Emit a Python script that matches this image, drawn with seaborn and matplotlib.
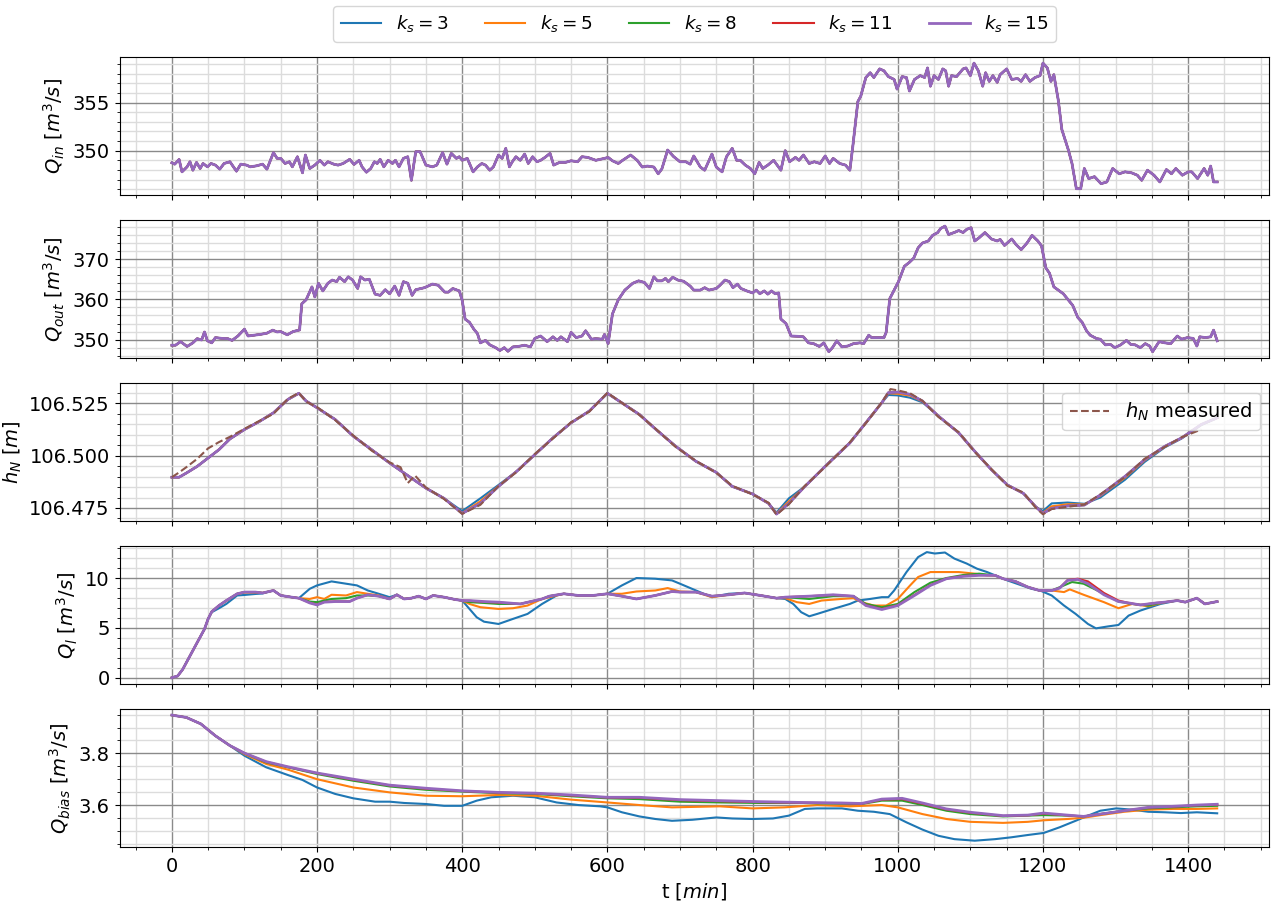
import pandas as pd
import matplotlib
matplotlib.use("Agg")
import matplotlib.pyplot as plt
from matplotlib.ticker import MultipleLocator, AutoMinorLocator, FormatStrFormatter
import seaborn as sns

# --- 1. Series / labels ---
KS = [3, 5, 8, 11, 15]
COLORS = ['tab:blue', 'tab:orange', 'tab:green', 'tab:red', 'tab:purple']

# --- 2. Inflow (same for every k_s) ---
t_qin = [0, 4, 10, 14, 21, 25, 29, 34, 39, 43, 49, 54, 60, 66, 72, 80, 89, 95, 103, 108,
         117, 125, 131, 140, 145, 150, 156, 162, 166, 173, 180, 184, 190, 197, 204, 210, 215, 223, 229, 236,
         245, 251, 258, 262, 268, 274, 279, 283, 287, 292, 298, 304, 308, 313, 319, 325, 330, 336, 342, 350,
         359, 365, 373, 379, 385, 392, 396, 400, 407, 415, 421, 427, 432, 438, 443, 450, 455, 460, 465, 469,
         474, 480, 486, 491, 497, 503, 508, 514, 521, 526, 534, 542, 550, 559, 565, 573, 584, 596, 601, 607,
         615, 621, 632, 641, 648, 655, 664, 670, 675, 683, 691, 700, 708, 714, 719, 728, 734, 744, 750, 758,
         764, 772, 778, 783, 790, 797, 803, 809, 814, 821, 829, 839, 845, 851, 859, 864, 870, 878, 885, 893,
         900, 906, 911, 920, 928, 934, 938, 945, 949, 956, 962, 967, 975, 981, 987, 995, 999, 1006, 1012, 1016,
         1023, 1031, 1037, 1041, 1045, 1050, 1056, 1062, 1066, 1070, 1074, 1081, 1090, 1094, 1100, 1105, 1111, 1117, 1121, 1126,
         1131, 1137, 1141, 1150, 1157, 1165, 1170, 1176, 1182, 1189, 1196, 1200, 1206, 1211, 1215, 1221, 1226, 1235, 1240, 1246,
         1252, 1257, 1263, 1271, 1280, 1288, 1296, 1305, 1313, 1322, 1330, 1336, 1344, 1353, 1361, 1370, 1377, 1383, 1392, 1400,
         1405, 1413, 1422, 1427, 1431, 1435, 1440]
q_in = [348.74, 348.6, 349.09, 347.8, 348.32, 348.85, 347.97, 348.78, 348.15, 348.67, 348.32, 348.67, 348.5, 348.08, 348.67, 348.85, 347.87, 348.6, 348.5, 348.32,
        348.43, 348.6, 348.08, 349.8, 349.2, 349.2, 348.67, 348.85, 348.32, 349.37, 347.7, 349.55, 348.15, 348.5, 349.0, 348.5, 348.85, 348.6, 348.5, 348.67,
        349.1, 348.57, 349.0, 348.32, 347.76, 348.15, 348.85, 348.67, 349.1, 348.32, 349.0, 348.67, 349.0, 348.32, 349.2, 349.37, 346.92, 349.9, 349.9, 348.5,
        348.32, 348.5, 349.8, 348.6, 349.72, 349.2, 349.37, 349.0, 349.2, 347.8, 348.32, 348.67, 348.5, 347.97, 348.32, 349.55, 349.2, 350.24, 348.32, 348.85,
        349.37, 349.0, 349.65, 348.67, 349.37, 348.85, 349.0, 349.3, 349.72, 348.5, 348.78, 348.78, 348.95, 348.85, 349.37, 349.3, 349.0, 349.2, 349.3, 348.95,
        348.67, 349.0, 349.55, 349.0, 348.3, 348.4, 348.3, 347.6, 348.1, 350.07, 349.4, 348.85, 348.85, 348.6, 349.45, 348.3, 347.97, 349.65, 348.3, 347.8,
        349.37, 350.24, 349.0, 349.0, 348.5, 348.15, 347.6, 348.78, 348.15, 348.5, 349.0, 347.97, 350.0, 348.85, 349.3, 349.0, 349.55, 348.67, 348.85, 348.67,
        349.45, 348.67, 349.2, 348.67, 348.5, 347.97, 350.4, 355.1, 355.66, 357.6, 358.1, 357.6, 358.5, 358.3, 357.7, 357.4, 356.4, 357.7, 357.6, 356.2,
        357.4, 357.8, 357.6, 358.6, 356.7, 357.8, 357.4, 358.5, 358.3, 356.7, 357.8, 357.7, 358.5, 358.6, 357.8, 359.1, 358.3, 356.7, 358.1, 357.2,
        357.8, 357.1, 357.9, 358.5, 357.4, 357.5, 357.2, 357.9, 357.2, 357.6, 357.8, 359.1, 358.6, 357.2, 357.9, 355.3, 352.2, 350.07, 348.67, 346.05,
        346.05, 348.15, 347.1, 347.3, 346.57, 346.75, 348.15, 347.6, 347.8, 347.7, 347.45, 346.92, 347.97, 347.45, 346.75, 348.04, 347.6, 348.15, 347.45, 347.8,
        347.8, 347.1, 348.15, 347.45, 348.4, 346.75, 346.75]

# --- 3. Outflow (same for every k_s) ---
t_qout = [0, 5, 12, 21, 29, 35, 41, 45, 49, 55, 60, 69, 77, 83, 91, 100, 105, 114, 122, 131,
          139, 145, 150, 159, 167, 176, 179, 185, 193, 197, 202, 208, 215, 221, 227, 231, 238, 243, 249, 256,
          260, 266, 272, 280, 287, 294, 300, 307, 313, 319, 325, 331, 336, 348, 359, 367, 376, 381, 387, 396,
          400, 404, 410, 416, 421, 425, 432, 438, 446, 452, 458, 463, 470, 477, 486, 494, 500, 508, 517, 525,
          531, 536, 545, 550, 557, 565, 570, 578, 584, 593, 596, 601, 607, 615, 624, 635, 643, 651, 658, 664,
          669, 675, 680, 684, 690, 697, 705, 714, 719, 728, 734, 740, 750, 755, 762, 768, 773, 779, 784, 792,
          800, 805, 810, 816, 821, 826, 831, 836, 839, 846, 853, 864, 870, 877, 884, 892, 898, 905, 910, 916,
          923, 931, 939, 948, 953, 960, 964, 973, 981, 984, 989, 995, 1001, 1009, 1016, 1022, 1028, 1034, 1042, 1048,
          1055, 1059, 1065, 1070, 1079, 1084, 1090, 1095, 1101, 1106, 1112, 1120, 1129, 1137, 1141, 1147, 1157, 1163, 1170, 1178,
          1185, 1193, 1198, 1204, 1209, 1215, 1221, 1228, 1233, 1241, 1248, 1254, 1260, 1265, 1274, 1279, 1286, 1293, 1299, 1307,
          1315, 1321, 1327, 1334, 1341, 1347, 1351, 1360, 1368, 1376, 1385, 1391, 1399, 1407, 1412, 1416, 1424, 1431, 1435, 1440]
q_out = [348.6, 348.6, 349.5, 348.3, 349.2, 350.25, 349.9, 351.9, 349.7, 349.2, 350.5, 350.3, 350.25, 349.8, 350.9, 352.6, 350.9, 351.1, 351.3, 351.6,
         352.35, 351.9, 352.0, 351.2, 352.0, 352.4, 358.9, 359.9, 363.1, 360.6, 364.0, 362.1, 364.0, 364.8, 364.4, 365.5, 364.4, 365.6, 364.8, 362.7,
         365.6, 364.8, 365.0, 361.3, 361.0, 362.4, 361.4, 363.3, 361.0, 364.4, 364.0, 361.0, 362.4, 362.9, 363.8, 363.5, 361.8, 361.8, 362.7, 362.1,
         359.75, 355.1, 354.3, 352.6, 351.5, 349.2, 349.8, 348.7, 348.0, 347.3, 348.0, 347.1, 348.2, 348.3, 348.6, 348.2, 350.3, 350.9, 349.5, 350.7,
         349.8, 350.7, 349.5, 351.8, 350.5, 350.9, 352.2, 350.1, 350.25, 350.1, 351.3, 349.0, 356.4, 359.9, 362.3, 364.0, 364.6, 364.2, 362.7, 365.6,
         364.6, 364.6, 365.2, 364.4, 365.5, 364.8, 364.5, 363.3, 362.3, 362.3, 362.9, 362.3, 362.7, 363.5, 364.8, 364.4, 362.9, 363.8, 362.7, 362.1,
         361.6, 362.3, 361.4, 362.1, 361.3, 362.1, 361.4, 361.6, 355.1, 354.0, 350.9, 350.8, 350.7, 349.2, 349.0, 348.3, 349.2, 347.0, 348.0, 349.7,
         348.2, 348.4, 349.0, 349.2, 349.0, 351.1, 350.5, 350.5, 350.5, 351.8, 360.2, 362.3, 364.4, 368.2, 369.2, 370.25, 372.8, 374.0, 374.5, 375.9,
         376.6, 377.6, 378.2, 376.1, 376.7, 377.1, 376.6, 377.4, 377.8, 374.5, 375.3, 376.6, 375.0, 374.5, 374.9, 373.4, 375.0, 373.6, 372.35, 374.0,
         375.9, 374.5, 373.3, 367.8, 366.5, 363.1, 362.3, 361.4, 360.3, 358.5, 355.5, 354.3, 352.2, 351.1, 350.25, 350.1, 348.7, 348.8, 348.0, 348.7,
         349.8, 348.8, 348.7, 348.0, 349.0, 348.4, 347.0, 349.5, 349.2, 349.0, 350.9, 350.1, 350.5, 350.3, 348.4, 350.7, 350.5, 350.7, 352.35, 349.7]

# --- 4. Water level h_N ---
t_hn = [0, 10, 20, 35, 50, 65, 80, 100, 120, 140, 160, 175, 185, 200, 225, 250, 275, 300, 330, 350,
        375, 400, 425, 450, 475, 500, 525, 550, 575, 600, 644, 666, 694, 722, 750, 772, 800, 822, 833, 850,
        872, 900, 934, 956, 978, 987, 1000, 1017, 1034, 1056, 1084, 1106, 1129, 1151, 1173, 1190, 1200, 1212, 1234, 1257,
        1279, 1313, 1340, 1368, 1391, 1418, 1440]
hn_ks3 = [106.4897, 106.4897, 106.4917, 106.4949, 106.4989, 106.5029, 106.5080, 106.5125, 106.5162, 106.5205,
          106.5269, 106.5298, 106.5261, 106.5229, 106.5173, 106.5093, 106.5029, 106.4965, 106.4893, 106.4845,
          106.4796, 106.4735, 106.4796, 106.4860, 106.4925, 106.5005, 106.5085, 106.5157, 106.5213, 106.5298,
          106.5197, 106.5128, 106.5045, 106.4973, 106.4920, 106.4853, 106.4817, 106.4772, 106.4728, 106.4796,
          106.4853, 106.4949, 106.5061, 106.5157, 106.5253, 106.5290, 106.5288, 106.5277, 106.5255, 106.5189,
          106.5109, 106.5021, 106.4933, 106.4860, 106.4820, 106.4756, 106.4735, 106.4772, 106.4776, 106.4770,
          106.4800, 106.4885, 106.4970, 106.5040, 106.5082, 106.5146, 106.5180]
hn_ks5 = [106.4897, 106.4897, 106.4917, 106.4949, 106.4989, 106.5029, 106.5080, 106.5125, 106.5162, 106.5205,
          106.5269, 106.5298, 106.5261, 106.5229, 106.5173, 106.5093, 106.5029, 106.4965, 106.4893, 106.4845,
          106.4796, 106.4726, 106.4782, 106.4855, 106.4925, 106.5005, 106.5085, 106.5157, 106.5213, 106.5298,
          106.5197, 106.5128, 106.5045, 106.4973, 106.4920, 106.4853, 106.4817, 106.4772, 106.4723, 106.4782,
          106.4853, 106.4949, 106.5061, 106.5157, 106.5253, 106.5298, 106.5296, 106.5287, 106.5259, 106.5189,
          106.5109, 106.5021, 106.4933, 106.4860, 106.4820, 106.4756, 106.4727, 106.4758, 106.4768, 106.4767,
          106.4808, 106.4895, 106.4977, 106.5043, 106.5084, 106.5148, 106.5181]
hn_ks8_15 = [106.4897, 106.4897, 106.4917, 106.4949, 106.4989, 106.5029, 106.5080, 106.5125, 106.5162, 106.5205,
             106.5269, 106.5298, 106.5261, 106.5229, 106.5173, 106.5093, 106.5029, 106.4965, 106.4893, 106.4845,
             106.4796, 106.4724, 106.4772, 106.4853, 106.4925, 106.5005, 106.5085, 106.5157, 106.5213, 106.5298,
             106.5197, 106.5128, 106.5045, 106.4973, 106.4920, 106.4853, 106.4817, 106.4772, 106.4721, 106.4772,
             106.4853, 106.4949, 106.5061, 106.5157, 106.5253, 106.5301, 106.5304, 106.5293, 106.5261, 106.5189,
             106.5109, 106.5021, 106.4933, 106.4860, 106.4820, 106.4756, 106.4724, 106.4748, 106.4760, 106.4764,
             106.4812, 106.4901, 106.4981, 106.5045, 106.5085, 106.5149, 106.5181]
t_meas = [0, 10, 20, 35, 50, 65, 80, 100, 120, 140, 160, 175, 185, 200, 225, 250, 275, 300, 315, 325,
          335, 350, 375, 400, 425, 450, 475, 500, 525, 550, 575, 600, 644, 666, 694, 722, 750, 772, 800, 822,
          833, 850, 872, 900, 934, 956, 978, 990, 1000, 1017, 1034, 1056, 1084, 1106, 1129, 1151, 1173, 1190, 1200, 1212,
          1234, 1257, 1279, 1313, 1340, 1368, 1391, 1418]
hn_meas = [106.4897, 106.4920, 106.4945, 106.4985, 106.5035, 106.5065, 106.5090, 106.5128, 106.5165, 106.5200,
           106.5272, 106.5300, 106.5258, 106.5232, 106.5170, 106.5096, 106.5025, 106.4968, 106.4945, 106.4869,
           106.4905, 106.4848, 106.4793, 106.4722, 106.4765, 106.4855, 106.4922, 106.5008, 106.5082, 106.5160,
           106.5210, 106.5300, 106.5195, 106.5130, 106.5042, 106.4975, 106.4918, 106.4856, 106.4815, 106.4775,
           106.4718, 106.4768, 106.4856, 106.4946, 106.5064, 106.5155, 106.5255, 106.5318, 106.5312, 106.5298,
           106.5262, 106.5185, 106.5112, 106.5018, 106.4936, 106.4856, 106.4824, 106.4752, 106.4720, 106.4745,
           106.4756, 106.4766, 106.4815, 106.4898, 106.4985, 106.5042, 106.5088, 106.5125]

# --- 5. Lateral flow Q_l ---
t_ql3 = [0, 8, 15, 25, 35, 45, 50, 55, 65, 75, 90, 100, 115, 125, 140, 150, 165, 175, 190, 200,
         220, 240, 255, 270, 285, 300, 310, 320, 330, 340, 350, 360, 375, 390, 400, 410, 420, 430, 450, 470,
         490, 510, 530, 540, 560, 580, 600, 620, 640, 666, 689, 700, 722, 744, 767, 789, 811, 833, 845, 856,
         867, 878, 889, 911, 934, 945, 962, 978, 987, 995, 1012, 1028, 1040, 1051, 1065, 1078, 1095, 1109, 1123, 1134,
         1151, 1168, 1184, 1196, 1212, 1229, 1245, 1262, 1273, 1290, 1304, 1318, 1334, 1348, 1362, 1385, 1396, 1412, 1423, 1440]
ql_ks3 = [0, 0.17, 0.84, 2.19, 3.54, 4.88, 5.9, 6.57, 6.97, 7.4, 8.25, 8.3, 8.4, 8.45, 8.75, 8.25, 8.08, 7.98, 8.92, 9.26,
          9.66, 9.43, 9.26, 8.75, 8.42, 8.08, 8.32, 7.9, 7.98, 8.18, 7.9, 8.25, 8.08, 7.85, 7.74, 6.9, 6.06, 5.62, 5.39, 5.9,
          6.4, 7.4, 8.25, 8.42, 8.25, 8.25, 8.42, 9.26, 10.0, 9.93, 9.76, 9.43, 8.75, 8.08, 8.42, 8.5, 8.25, 7.98, 7.9, 7.4,
          6.57, 6.16, 6.4, 6.9, 7.4, 7.74, 7.9, 8.08, 8.08, 8.75, 10.6, 12.1, 12.6, 12.46, 12.56, 11.95, 11.45, 10.94, 10.6, 10.27,
          9.76, 9.33, 8.92, 8.75, 8.25, 7.24, 6.4, 5.39, 4.95, 5.15, 5.29, 6.23, 6.73, 7.07, 7.4, 7.74, 7.58, 7.98, 7.4, 7.64]
t_ql5 = [0, 8, 15, 25, 35, 45, 50, 55, 65, 75, 90, 100, 115, 125, 140, 150, 165, 175, 190, 200,
         210, 220, 240, 255, 270, 285, 300, 310, 320, 330, 340, 350, 360, 375, 390, 400, 410, 425, 450, 470,
         490, 510, 530, 540, 560, 580, 600, 620, 640, 666, 683, 700, 722, 744, 767, 789, 811, 833, 845, 861,
         878, 895, 922, 939, 950, 967, 984, 1000, 1017, 1028, 1045, 1062, 1084, 1106, 1123, 1134, 1145, 1162, 1179, 1195,
         1212, 1229, 1237, 1256, 1284, 1304, 1323, 1345, 1368, 1385, 1396, 1412, 1423, 1440]
ql_ks5 = [0, 0.17, 0.84, 2.19, 3.54, 4.88, 5.9, 6.63, 7.24, 7.7, 8.4, 8.55, 8.55, 8.5, 8.75, 8.25, 8.08, 7.98, 7.9, 8.08,
          7.9, 8.32, 8.25, 8.59, 8.42, 8.25, 7.9, 8.32, 7.9, 7.98, 8.18, 7.9, 8.25, 8.08, 7.85, 7.74, 7.4, 7.07, 6.9, 6.97,
          7.24, 7.9, 8.25, 8.42, 8.25, 8.25, 8.42, 8.42, 8.65, 8.75, 8.99, 8.65, 8.59, 8.08, 8.32, 8.5, 8.25, 7.98, 7.98, 7.58,
          7.4, 7.74, 7.9, 7.98, 7.58, 7.24, 7.24, 7.9, 9.26, 10.1, 10.6, 10.6, 10.6, 10.44, 10.27, 10.27, 9.93, 9.66, 9.1, 8.75,
          8.75, 8.59, 8.86, 8.32, 7.58, 6.97, 7.4, 7.17, 7.58, 7.74, 7.58, 7.98, 7.4, 7.64]
t_ql8 = [0, 8, 15, 25, 35, 45, 50, 55, 65, 75, 90, 100, 115, 125, 140, 150, 165, 175, 190, 200,
         220, 240, 255, 270, 285, 300, 310, 320, 330, 340, 350, 360, 375, 390, 400, 410, 430, 450, 480, 510,
         520, 540, 560, 580, 600, 620, 640, 666, 689, 700, 722, 744, 767, 789, 811, 833, 845, 878, 911, 939,
         956, 978, 1000, 1023, 1045, 1067, 1090, 1112, 1134, 1145, 1162, 1179, 1195, 1212, 1229, 1240, 1256, 1284, 1304, 1323,
         1345, 1362, 1385, 1396, 1412, 1423, 1440]
ql_ks8 = [0, 0.17, 0.84, 2.19, 3.54, 4.88, 5.9, 6.63, 7.24, 7.74, 8.42, 8.59, 8.59, 8.5, 8.75, 8.25, 8.08, 7.98, 7.64, 7.58,
          7.9, 7.98, 8.25, 8.25, 8.2, 7.9, 8.32, 7.9, 7.98, 8.18, 7.9, 8.25, 8.08, 7.85, 7.74, 7.58, 7.5, 7.4, 7.4, 7.9,
          8.18, 8.42, 8.25, 8.25, 8.42, 8.18, 7.9, 8.25, 8.65, 8.59, 8.59, 8.18, 8.32, 8.5, 8.25, 7.98, 8.08, 7.9, 8.18, 8.18,
          7.4, 7.07, 7.4, 8.59, 9.53, 10.0, 10.3, 10.44, 10.27, 9.93, 9.66, 9.1, 8.75, 8.75, 9.26, 9.6, 9.43, 8.42, 7.64, 7.4,
          7.24, 7.5, 7.74, 7.58, 7.98, 7.4, 7.64]
t_ql15 = [0, 8, 15, 25, 35, 45, 50, 55, 65, 75, 90, 100, 115, 125, 140, 150, 165, 175, 190, 200,
          210, 225, 245, 255, 270, 285, 300, 310, 320, 330, 340, 350, 360, 375, 390, 400, 410, 430, 450, 480,
          510, 520, 540, 560, 580, 600, 620, 640, 666, 689, 700, 722, 744, 767, 789, 811, 833, 845, 878, 911,
          939, 956, 978, 1000, 1023, 1045, 1067, 1090, 1112, 1134, 1145, 1162, 1179, 1195, 1212, 1223, 1234, 1248, 1262, 1284,
          1304, 1318, 1334, 1356, 1368, 1385, 1396, 1412, 1423, 1440]
ql_ks11 = [0, 0.17, 0.84, 2.19, 3.54, 4.88, 5.9, 6.63, 7.24, 7.74, 8.42, 8.59, 8.59, 8.5, 8.75, 8.25, 8.08, 7.98, 7.52, 7.34,
           7.6, 7.66, 7.66, 7.98, 8.32, 8.18, 7.9, 8.32, 7.9, 7.98, 8.18, 7.9, 8.25, 8.08, 7.85, 7.74, 7.72, 7.6, 7.54, 7.4,
           7.9, 8.18, 8.42, 8.25, 8.25, 8.42, 8.18, 7.9, 8.25, 8.65, 8.59, 8.59, 8.18, 8.32, 8.5, 8.25, 7.98, 8.08, 8.18, 8.3,
           8.18, 7.28, 6.9, 7.28, 8.3, 9.3, 9.95, 10.2, 10.3, 10.27, 9.93, 9.66, 9.1, 8.75, 8.75, 9.0, 9.8, 9.93, 9.66, 8.5,
           7.74, 7.5, 7.3, 7.5, 7.58, 7.74, 7.58, 7.98, 7.4, 7.64]
ql_ks15 = [0, 0.17, 0.84, 2.19, 3.54, 4.88, 5.9, 6.63, 7.24, 7.74, 8.42, 8.59, 8.59, 8.5, 8.75, 8.25, 8.08, 7.98, 7.5, 7.3,
           7.58, 7.64, 7.64, 7.98, 8.32, 8.18, 7.9, 8.32, 7.9, 7.98, 8.18, 7.9, 8.25, 8.08, 7.85, 7.74, 7.74, 7.64, 7.58, 7.4,
           7.9, 8.18, 8.42, 8.25, 8.25, 8.42, 8.18, 7.9, 8.25, 8.65, 8.59, 8.59, 8.18, 8.32, 8.5, 8.25, 7.98, 8.08, 8.18, 8.32,
           8.18, 7.24, 6.84, 7.24, 8.25, 9.26, 9.93, 10.17, 10.27, 10.27, 9.93, 9.66, 9.1, 8.75, 8.75, 8.99, 9.76, 9.86, 9.43, 8.32,
           7.64, 7.5, 7.3, 7.5, 7.58, 7.74, 7.58, 7.98, 7.4, 7.64]

# --- 6. Bias Q_bias ---
t_qb3 = [0, 20, 40, 60, 80, 100, 130, 160, 180, 200, 225, 250, 280, 300, 320, 350, 375, 400, 420, 440,
         470, 500, 530, 560, 590, 600, 620, 644, 666, 689, 717, 750, 772, 800, 828, 850, 872, 889, 923, 945,
         967, 989, 1012, 1034, 1056, 1078, 1106, 1134, 1156, 1179, 1201, 1223, 1245, 1262, 1279, 1301, 1323, 1345, 1368, 1390,
         1412, 1440]
qb_ks3 = [3.948, 3.939, 3.914, 3.868, 3.83, 3.791, 3.746, 3.716, 3.697, 3.668, 3.643, 3.626, 3.613, 3.613, 3.608, 3.604, 3.597, 3.597, 3.617, 3.63,
          3.636, 3.63, 3.61, 3.6, 3.595, 3.591, 3.572, 3.556, 3.546, 3.539, 3.543, 3.552, 3.548, 3.546, 3.548, 3.559, 3.585, 3.587, 3.587, 3.578,
          3.574, 3.565, 3.533, 3.505, 3.481, 3.468, 3.462, 3.468, 3.475, 3.484, 3.492, 3.514, 3.539, 3.559, 3.578, 3.587, 3.582, 3.574, 3.572, 3.569,
          3.572, 3.568]
t_qb5 = [0, 20, 40, 60, 80, 100, 130, 160, 200, 250, 300, 350, 400, 450, 500, 550, 600, 644, 689, 755,
         800, 844, 889, 934, 978, 1000, 1034, 1067, 1100, 1145, 1179, 1201, 1234, 1256, 1279, 1312, 1345, 1379, 1412, 1440]
qb_ks5 = [3.948, 3.939, 3.914, 3.868, 3.83, 3.797, 3.759, 3.737, 3.70, 3.668, 3.649, 3.636, 3.634, 3.639, 3.636, 3.621, 3.61, 3.6, 3.591, 3.595,
          3.587, 3.591, 3.6, 3.595, 3.6, 3.591, 3.565, 3.546, 3.535, 3.531, 3.535, 3.541, 3.546, 3.551, 3.561, 3.574, 3.582, 3.585, 3.585, 3.587]
t_qb = [0, 20, 40, 60, 80, 100, 130, 160, 200, 250, 300, 350, 400, 450, 500, 550, 600, 644, 700, 755,
        811, 867, 923, 950, 978, 1006, 1034, 1067, 1100, 1145, 1179, 1201, 1234, 1256, 1279, 1312, 1345, 1379, 1412, 1440]
qb_ks8 = [3.948, 3.939, 3.914, 3.868, 3.83, 3.8, 3.765, 3.746, 3.72, 3.694, 3.672, 3.659, 3.652, 3.646, 3.643, 3.634, 3.626, 3.623, 3.613, 3.61,
          3.608, 3.608, 3.605, 3.604, 3.617, 3.617, 3.6, 3.578, 3.565, 3.556, 3.559, 3.561, 3.559, 3.556, 3.565, 3.578, 3.587, 3.591, 3.595, 3.597]
qb_ks11 = [3.948, 3.939, 3.914, 3.868, 3.83, 3.801, 3.767, 3.747, 3.723, 3.698, 3.676, 3.663, 3.654, 3.648, 3.645, 3.637, 3.629, 3.628, 3.619, 3.615,
           3.611, 3.609, 3.607, 3.605, 3.621, 3.623, 3.605, 3.583, 3.57, 3.558, 3.56, 3.567, 3.56, 3.556, 3.565, 3.578, 3.59, 3.594, 3.599, 3.601]
qb_ks15 = [3.948, 3.939, 3.914, 3.868, 3.83, 3.801, 3.768, 3.748, 3.724, 3.70, 3.677, 3.665, 3.655, 3.649, 3.646, 3.639, 3.63, 3.63, 3.621, 3.617,
           3.613, 3.61, 3.608, 3.606, 3.623, 3.626, 3.608, 3.585, 3.572, 3.559, 3.561, 3.569, 3.561, 3.556, 3.565, 3.578, 3.591, 3.595, 3.6, 3.603]

# --- 7. Assemble long tables ---
def long_table(series):
    frames = []
    for ks, (t, v) in series.items():
        frames.append(pd.DataFrame({'t': t, 'value': v, 'ks': ks}))
    return pd.concat(frames, ignore_index=True)

panels = [
    (long_table({k: (t_qin, q_in) for k in KS}), r'$Q_{in}$ $[m^3/s]$', 5, None),
    (long_table({k: (t_qout, q_out) for k in KS}), r'$Q_{out}$ $[m^3/s]$', 10, None),
    (long_table({3: (t_hn, hn_ks3), 5: (t_hn, hn_ks5), 8: (t_hn, hn_ks8_15),
                 11: (t_hn, hn_ks8_15), 15: (t_hn, hn_ks8_15)}), r'$h_N$ $[m]$', 0.025, '%.3f'),
    (long_table({3: (t_ql3, ql_ks3), 5: (t_ql5, ql_ks5), 8: (t_ql8, ql_ks8),
                 11: (t_ql15, ql_ks11), 15: (t_ql15, ql_ks15)}), r'$Q_l$ $[m^3/s]$', 5, None),
    (long_table({3: (t_qb3, qb_ks3), 5: (t_qb5, qb_ks5), 8: (t_qb, qb_ks8),
                 11: (t_qb, qb_ks11), 15: (t_qb, qb_ks15)}), r'$Q_{bias}$ $[m^3/s]$', 0.2, None),
]

# --- 8. Plot ---
plt.rcParams['font.size'] = 14
fig, axes = plt.subplots(5, 1, figsize=(12.72, 9.02), dpi=100, sharex=True)
fig.subplots_adjust(left=0.094, right=0.998, top=0.937, bottom=0.061, hspace=0.18)

for ax, (df, ylabel, major, fmt) in zip(axes, panels):
    for ks, color in zip(KS, COLORS):
        d = df[df['ks'] == ks]
        sns.lineplot(data=d, x='t', y='value', ax=ax, color=color, estimator=None, sort=False,
                     lw=2.0 if ks == 15 else 1.5, label=rf'$k_s = {ks}$', legend=False)
    ax.set_ylabel(ylabel)
    ax.set_xlabel('')
    ax.yaxis.set_major_locator(MultipleLocator(major))
    ax.yaxis.set_minor_locator(AutoMinorLocator())
    ax.xaxis.set_major_locator(MultipleLocator(200))
    ax.xaxis.set_minor_locator(AutoMinorLocator())
    if fmt:
        ax.yaxis.set_major_formatter(FormatStrFormatter(fmt))
    ax.grid(which='major', color='#8a8a8a', lw=1.0)
    ax.grid(which='minor', color='#dcdcdc', lw=1.0)
    ax.set_axisbelow(True)

# measured water level
meas = pd.DataFrame({'t': t_meas, 'value': hn_meas})
sns.lineplot(data=meas, x='t', y='value', ax=axes[2], color='tab:brown', ls='--', lw=1.5,
             estimator=None, sort=False, legend=False)
axes[2].set_ylabel(r'$h_N$ $[m]$')
mline = axes[2].lines[-1]
axes[2].legend([mline], [r'$h_N$ measured'], loc='upper right', fontsize=14)

axes[-1].set_xlabel(r't $[min]$')
axes[-1].set_xlim(-72, 1512)

handles = axes[0].lines[:5]
axes[0].legend(handles, [rf'$k_s = {k}$' for k in KS], loc='lower center',
               bbox_to_anchor=(0.5, 1.11), ncol=5, borderaxespad=0, fontsize=13.2,
               handlelength=2.2, columnspacing=2.0)

plt.savefig('out.png', dpi=100)
